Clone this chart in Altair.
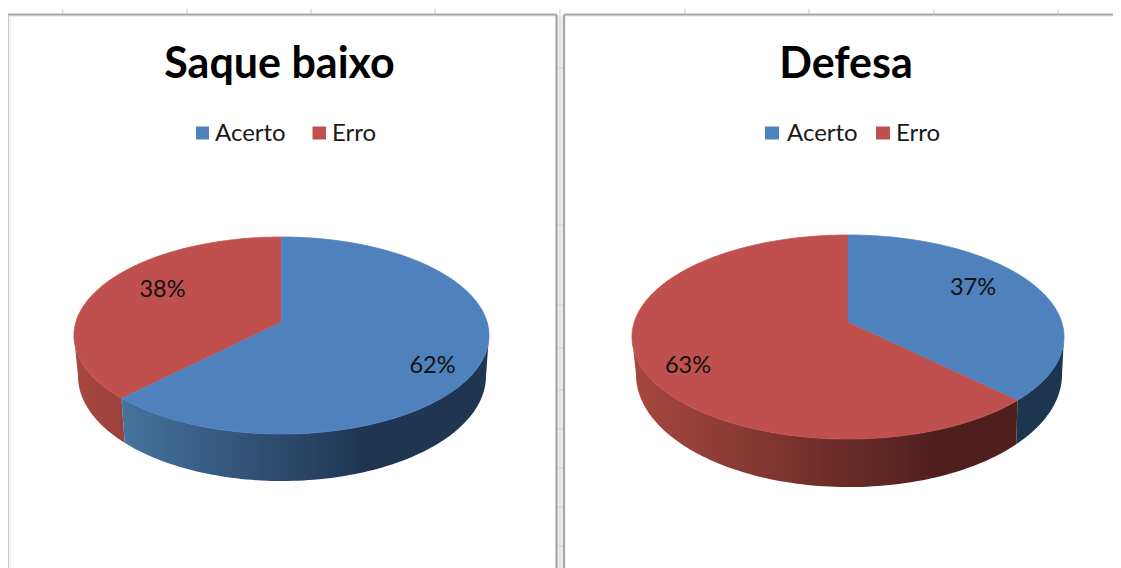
import numpy as np
import pandas as pd
import altair as alt

CATEGORIES = ["Acerto", "Erro"]
TITLES = ["Saque baixo", "Defesa"]
SAQUE_VALUES = [62.4, 37.6]
DEFESA_VALUES = [37.4, 62.6]
SAQUE_LABELS = ["62%", "38%"]
DEFESA_LABELS = ["37%", "63%"]
BLUE, RED = "#4F81BD", "#C0504D"
GRID = "#D3DAE8"
FRAME = "#A6A6A6"

PIES = [
    dict(name="s", values=SAQUE_VALUES, cx=281.5, ax=281.5, ay=322, top=237, bottom=434,
         rx=207.5, cx2=282, cy2=376, rx2=204, ry2=105),
    dict(name="d", values=DEFESA_VALUES, cx=848, ax=848, ay=322, top=235, bottom=439,
         rx=216, cx2=849, cy2=374.5, rx2=213, ry2=112.6),
]


def project(p, theta):
    up, down = p["ay"] - p["top"], p["bottom"] - p["ay"]
    k = (down - up) / (down + up)
    b = up * (1 + k)
    a = p["rx"] * np.sqrt(1 - k * k)
    u, v = np.sin(theta), np.cos(theta)
    d = 1 + k * v
    return p["ax"] + a * u / d, p["ay"] - b * v / d, k


tops, walls = [], []
for p in PIES:
    start = 0.0
    for cat, val in zip(CATEGORIES, p["values"]):
        end = start + val / 100 * 2 * np.pi
        th = np.linspace(start, end, 160)
        x, y, k = project(p, th)
        xs = np.r_[p["ax"], x]
        ys = np.r_[p["ay"], y]
        tops.append(pd.DataFrame(dict(pie=p["name"], cat=cat, i=range(len(xs)), x=xs, y=ys)))
        # visible front wall of this slice
        th_right = np.arccos(-k)
        lo, hi = max(start, th_right), min(end, 2 * np.pi - th_right)
        if hi > lo:
            tw = np.linspace(lo, hi, 100)
            xu, yu, _ = project(p, tw)
            xb = p["cx2"] + (xu - p["cx"]) * p["rx2"] / p["rx"]
            phi = np.arccos(np.clip((xb - p["cx2"]) / p["rx2"], -1, 1))
            yb = p["cy2"] + p["ry2"] * np.sin(phi)
            wx = np.r_[xu, xb[::-1]]
            wy = np.r_[yu, yb[::-1]]
            walls.append(pd.DataFrame(dict(pie=p["name"], cat=cat, i=range(len(wx)), x=wx, y=wy)))
        start = end
tops = pd.concat(tops)
walls = pd.concat(walls)

X = alt.X("x:Q", axis=None, scale=alt.Scale(domain=[8, 1113], nice=False, zero=False))
Y = alt.Y("y:Q", axis=None, scale=alt.Scale(domain=[568, 8], nice=False, zero=False))
X_PLAIN = alt.X("x:Q", axis=None)
Y_PLAIN = alt.Y("y:Q", axis=None)
ORDER = alt.Order("i:Q")


def rules(rows, color, width):
    df = pd.DataFrame(rows, columns=["x", "x2", "y", "y2"])
    return alt.Chart(df).mark_rule(color=color, strokeWidth=width).encode(X_PLAIN, x2="x2:Q", y=Y_PLAIN, y2="y2:Q")


def poly(df, pie, cat, fill, stroke=None):
    mark = dict(fill=fill, interpolate="linear", strokeWidth=0.8 if stroke else 0)
    mark["stroke"] = stroke if stroke else "transparent"
    d = df[(df.pie == pie) & (df.cat == cat)]
    return alt.Chart(d).mark_line(**mark).encode(X_PLAIN, Y_PLAIN, order=ORDER)


def grad(stops):
    return alt.Gradient(gradient="linear", x1=0, x2=1, y1=0, y2=0,
                        stops=[alt.GradientStop(offset=o, color=c) for o, c in stops])


tick_xs = [62.5, 187, 311, 435, 685, 809, 934, 1058]
tick_ys = [68, 225, 305, 348, 390, 429, 468, 507, 546]
grid_rows = [(x, x, 9, 14) for x in tick_xs]
grid_rows += [(3, 8, y, y) for y in tick_ys]
grid_rows += [(557, 564, y, y) for y in tick_ys]
grid_rows += [(560, 560, 9, 568)]
halo_rows = [(10, 10, 16, 568), (558, 558, 16, 568), (562, 562, 16, 568),
             (10, 555, 16, 16), (566, 1113, 16, 16)]
frames_rows = [(7.5, 7.5, 14.5, 568), (7.5, 556.5, 14.5, 14.5), (556.5, 556.5, 14.5, 568),
               (564, 564, 14.5, 568), (564, 1113, 14.5, 14.5)]

title_df = pd.DataFrame(dict(x=[279.5, 846], y=[65, 65], t=TITLES))
legend_squares = pd.DataFrame(dict(x=[196, 312.5, 765, 876], x2=[209, 326, 779, 890],
                                   y=[126.5, 126.5, 126.5, 126.5], y2=[139.5, 139.5, 139.5, 139.5],
                                   cat=CATEGORIES * 2))
legend_text = pd.DataFrame(dict(x=[215, 332, 787, 896], y=[134] * 4, t=CATEGORIES * 2))
value_labels = pd.DataFrame(dict(x=[432.5, 162.5, 973, 688], y=[366, 290, 288, 366],
                                 t=SAQUE_LABELS + DEFESA_LABELS))

FONT = "Lato"
layers = [
    rules(halo_rows, "#ECECEC", 1.5),
    rules(grid_rows, GRID, 1.5),
    rules(frames_rows, FRAME, 2.2),
    poly(walls, "s", "Erro", grad([(0, "#A8473F"), (1, "#9C403D")])),
    poly(walls, "s", "Acerto", grad([(0, "#46739F"), (0.66, "#1F3552"), (1, "#1F3552")])),
    poly(walls, "d", "Acerto", grad([(0, "#1E3550"), (1, "#1E3550")])),
    poly(walls, "d", "Erro", grad([(0, "#A8483F"), (0.79, "#4F1F1E"), (1, "#4F1F1E")])),
    poly(tops, "s", "Erro", RED, RED),
    poly(tops, "s", "Acerto", BLUE, BLUE),
    poly(tops, "d", "Erro", RED, RED),
    poly(tops, "d", "Acerto", BLUE, BLUE),
    alt.Chart(title_df).mark_text(font=FONT, fontWeight="bold", fontSize=43, color="#000000",
                                  align="center", baseline="middle").encode(X_PLAIN, Y_PLAIN, text="t:N"),
    alt.Chart(legend_squares).mark_rect().encode(
        X_PLAIN, x2="x2:Q", y=Y_PLAIN, y2="y2:Q",
        color=alt.Color("cat:N", scale=alt.Scale(domain=CATEGORIES, range=[BLUE, RED]), legend=None)),
    alt.Chart(legend_text).mark_text(font=FONT, fontSize=24, color="#1A1A1A",
                                     align="left", baseline="middle").encode(X_PLAIN, Y_PLAIN, text="t:N"),
    alt.Chart(value_labels).mark_text(font=FONT, fontSize=23.5, color="#111111",
                                      align="center", baseline="middle").encode(X_PLAIN, Y_PLAIN, text="t:N"),
]

base = alt.Chart(pd.DataFrame(dict(x=[8], y=[8]))).mark_point(opacity=0).encode(X, Y)
chart = alt.layer(base, *layers).properties(
    width=1105, height=560, padding=0, background="white",
    autosize=alt.AutoSizeParams(type="none")
).configure_view(stroke=None)

chart.save("out.html", embed_options={"renderer": "svg", "actions": False})
